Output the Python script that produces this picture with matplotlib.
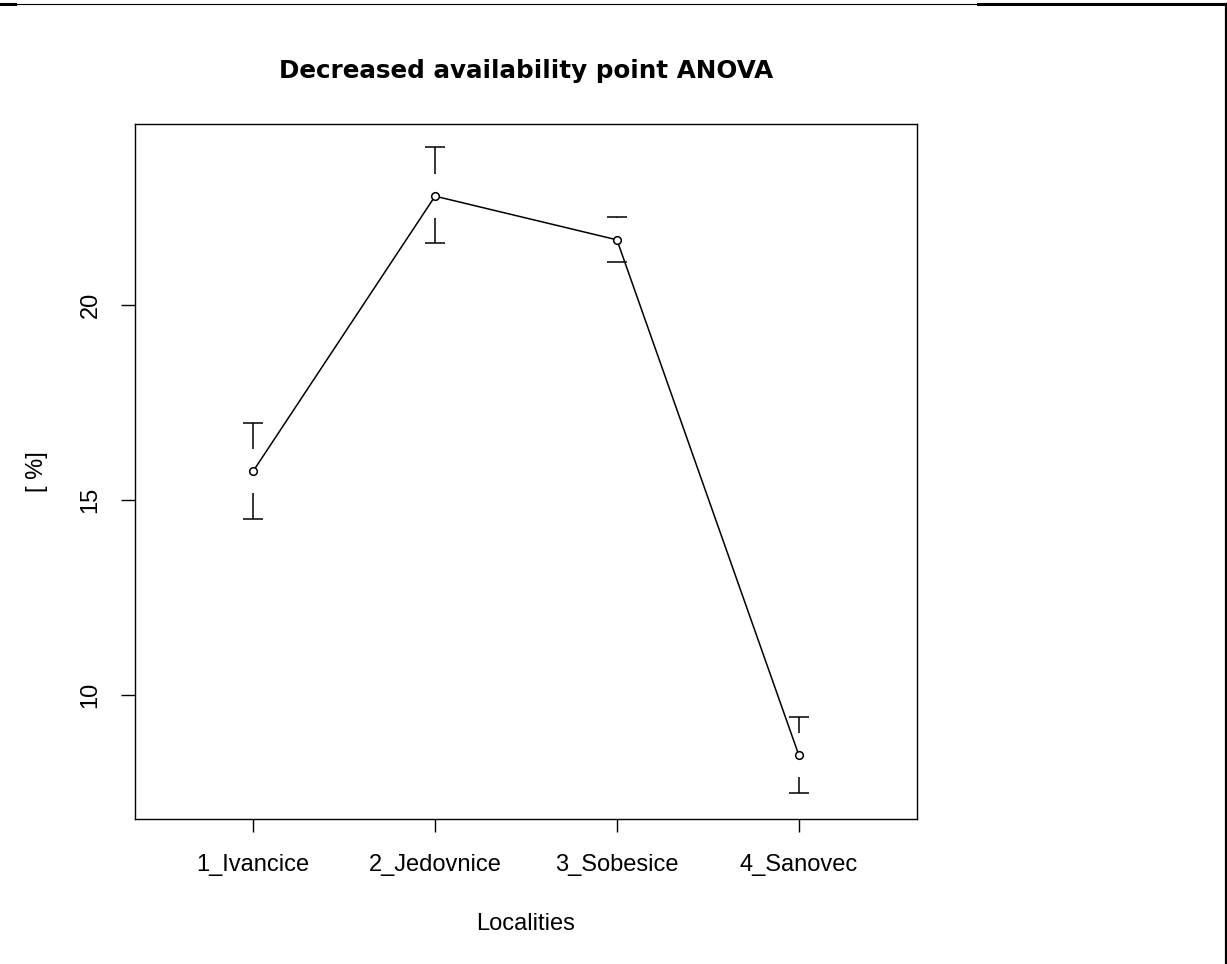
import matplotlib
matplotlib.use("Agg")
from matplotlib import pyplot as plt
from matplotlib.lines import Line2D

# group means and confidence limits
localities = ["1_Ivancice", "2_Jedovnice", "3_Sobesice", "4_Sanovec"]
means = [15.74, 22.79, 21.67, 8.46]
upper = [16.97, 24.05, 22.26, 9.44]
lower = [14.51, 21.59, 21.10, 7.49]
yticks = [10, 15, 20]

W, H = 1227, 964
fig = plt.figure(figsize=(W / 100, H / 100), dpi=100)
ax = fig.add_axes([135 / W, 1 - 819 / H, (917 - 135) / W, (819 - 124) / H])

xs = list(range(1, len(localities) + 1))
xlim = (0.35, 4.65)
ylim = (6.82, 24.64)
ax.set_xlim(*xlim)
ax.set_ylim(*ylim)

ax.plot(xs, means, color="black", lw=1.1, marker="o", ms=5.5,
        mfc="white", mec="black", mew=1.1, zorder=3)

# plotCI-style bars: a gap around each mean, caps at the ends
px_per_unit = (819 - 124) / (ylim[1] - ylim[0])
gap = 22 / px_per_unit
cap = 10 / ((917 - 135) / (xlim[1] - xlim[0]))
for x, m, hi, lo in zip(xs, means, upper, lower):
    if hi - m > gap:
        ax.vlines(x, m + gap, hi, color="black", lw=1.1)
    if m - lo > gap:
        ax.vlines(x, lo, m - gap, color="black", lw=1.1)
    ax.hlines([hi, lo], x - cap, x + cap, color="black", lw=1.1)

ax.set_xticks(xs)
ax.set_xticklabels(localities, family="Liberation Sans", fontsize=17)
ax.set_yticks(yticks)
ax.set_yticklabels([str(t) for t in yticks], family="Liberation Sans",
                   fontsize=17, rotation=90, va="center")
ax.tick_params(axis="x", length=9.5, width=1.0, pad=16)
ax.tick_params(axis="y", length=10, width=1.0, pad=14)
for s in ax.spines.values():
    s.set_linewidth(1.0)

ax.set_xlabel("Localities", family="Liberation Sans", fontsize=17, labelpad=26)
ax.set_ylabel("[ %]", family="Liberation Sans", fontsize=17, labelpad=23)
ax.set_title("Decreased availability point ANOVA", family="DejaVu Sans",
             fontweight="bold", fontsize=17.7, pad=33)

# page border fragments along the top and right edge
fig.add_artist(Line2D([0, 1], [1 - 4 / H, 1 - 4 / H], color="black", lw=0.8))
fig.add_artist(Line2D([0, 15 / W], [1 - 4 / H, 1 - 4 / H], color="black", lw=2.2))
fig.add_artist(Line2D([978 / W, 1], [1 - 4 / H, 1 - 4 / H], color="black", lw=2.2))
fig.add_artist(Line2D([1 - 1.5 / W, 1 - 1.5 / W], [0, 1 - 4 / H], color="black", lw=1.6))

fig.savefig("out.png", dpi=100)
